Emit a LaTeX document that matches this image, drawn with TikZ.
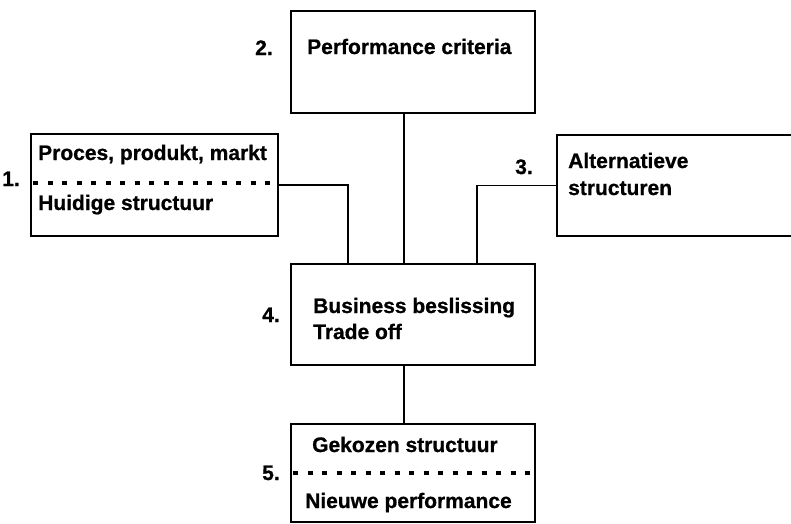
\documentclass[tikz,border=0pt]{standalone}
\usepackage{fontspec}
\setmainfont{Liberation Sans}[BoldFeatures={FakeBold=0.8}]
\begin{document}
\begin{tikzpicture}[x=1pt,y=-1pt,
  box/.style={draw, line width=2.2pt, inner sep=0pt, anchor=north west},
  link/.style={line width=1.7pt},
  sep/.style={line width=3.6pt, dash pattern=on 5pt off 9.5pt},
  txt/.style={anchor=base west, inner sep=0pt, font=\fontsize{21}{25}\selectfont\bfseries},
  num/.style={anchor=base west, inner sep=0pt, font=\fontsize{21}{25}\selectfont\bfseries}]
\useasboundingbox (0,0) rectangle (791,523);

% boxes
\node[box, minimum width=247pt, minimum height=102pt] (b1) at (30,133) {};
\node[box, minimum width=244pt, minimum height=102pt] (b2) at (290,10) {};
\node[box, minimum width=250pt, minimum height=101pt] (b3) at (556,134) {};
\node[box, minimum width=244pt, minimum height=101pt] (b4) at (290,263) {};
\node[box, minimum width=244pt, minimum height=98pt] (b5) at (290,423) {};

% dotted separators inside boxes 1 and 5
\coordinate (s1a) at (33,183);
\coordinate (s1b) at (276,183);
\coordinate (s5a) at (293,473);
\coordinate (s5b) at (533,473);
\draw[sep] (s1a) -- (s1b);
\draw[sep] (s5a) -- (s5b);

% box texts
\node[txt] (t1a) at (38,160) {Proces, produkt, markt};
\node[txt] (t1b) at (38,210) {Huidige structuur};
\node[txt] (t2)  at (307,54) {Performance criteria};
\node[txt] (t3a) at (568,168) {Alternatieve};
\node[txt] (t3b) at (568,195) {structuren};
\node[txt] (t4a) at (313,313) {Business beslissing};
\node[txt] (t4b) at (313,339) {Trade off};
\node[txt] (t5a) at (312,452) {Gekozen structuur};
\node[txt] (t5b) at (305,508) {Nieuwe performance};

% step numbers
\node[num] (n1) at (2,186) {1.};
\node[num] (n2) at (255,55) {2.};
\node[num] (n3) at (515,174) {3.};
\node[num] (n4) at (262,322) {4.};
\node[num] (n5) at (262,480) {5.};

% connectors
\draw[link] (b1.east) -| ([xshift=-65pt]b4.north);
\draw[link] (b3.west) -| ([xshift=64pt]b4.north);
\draw[link] ([xshift=-9pt]b2.south) -- ([xshift=-9pt]b4.north);
\draw[link] ([xshift=-9pt]b4.south) -- ([xshift=-9pt]b5.north);
\end{tikzpicture}
\end{document}
